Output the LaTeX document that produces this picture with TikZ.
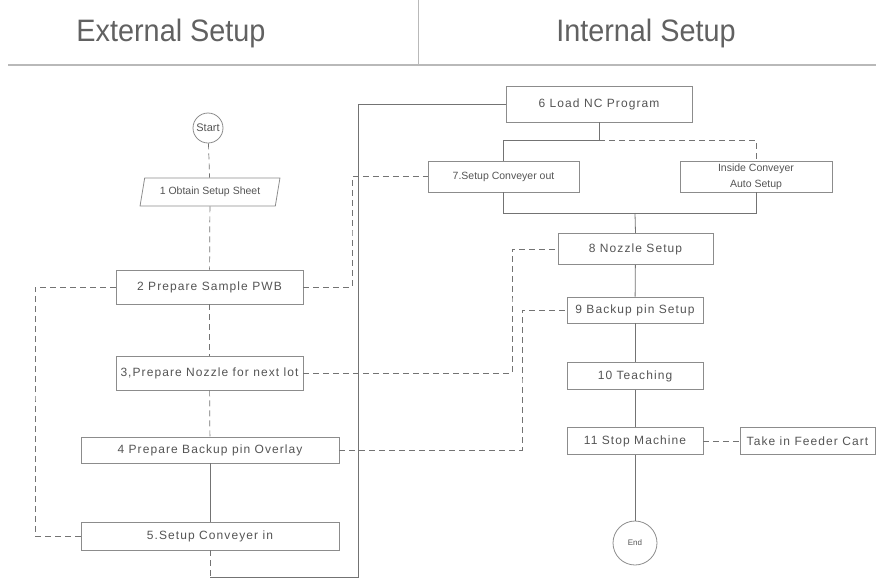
\documentclass[tikz,border=0pt]{standalone}
\usepackage{fontspec}
\usepackage{graphicx}
\setmainfont{Liberation Sans}
\usetikzlibrary{shapes.geometric}
\definecolor{linecol}{gray}{0.45}
\definecolor{boxcol}{gray}{0.55}
\definecolor{txtcol}{gray}{0.33}
\definecolor{hdrcol}{gray}{0.38}
\tikzset{
  stepbox/.style={draw=boxcol, line width=0.8pt, rectangle, inner sep=0pt, text=txtcol,
     font=\fontsize{12}{14}\selectfont\addfontfeature{LetterSpace=9}},
  smallbox/.style={stepbox, font=\fontsize{10.5}{12}\selectfont},
  termnode/.style={draw=boxcol, line width=0.8pt, circle, inner sep=0pt, text=txtcol},
  flow/.style={draw=linecol, line width=0.8pt},
  dflow/.style={draw=linecol, line width=0.7pt, dash pattern=on 6pt off 4pt},
  hdr/.style={text=hdrcol, font=\fontsize{31}{34}\selectfont, inner sep=0pt}
}
\begin{document}
\begin{tikzpicture}[x=1pt,y=-1pt]
\useasboundingbox (0,0) rectangle (876,582);
% header
\node[hdr] (hext) at (171,33) {\scalebox{0.93}[1]{External Setup}};
\node[hdr] (hint) at (646,33) {\scalebox{0.93}[1]{Internal Setup}};
\coordinate (hl1) at (8,65);
\coordinate (hl2) at (876,65);
\coordinate (hv1) at (418,0);
\coordinate (hv2) at (418,65);
\draw[draw=gray!55, line width=1.2pt] (hl1) -- (hl2);
\draw[draw=gray!55, line width=1pt] (hv1) -- (hv2);

% left column
\node[termnode, minimum size=30pt, font=\fontsize{11}{12}\selectfont] (start) at (208,128) {Start};
\node[draw=boxcol, line width=0.8pt, trapezium, trapezium left angle=70, trapezium right angle=110,
      trapezium stretches=true, minimum width=140pt, minimum height=28pt, inner sep=0pt,
      text=txtcol, font=\fontsize{10.5}{12}\selectfont] (s1) at (210,192) {1 Obtain Setup Sheet};
\node[stepbox, minimum width=187pt, minimum height=34pt] (b2) at (209.5,287) {2 Prepare Sample PWB};
\node[stepbox, minimum width=187pt, minimum height=34pt] (b3) at (209.5,373) {3,Prepare Nozzle for next lot};
\node[stepbox, minimum width=258pt, minimum height=26pt] (b4) at (210,450) {4 Prepare Backup pin Overlay};
\node[stepbox, minimum width=258pt, minimum height=28pt] (b5) at (210,536) {5.Setup Conveyer in};

% right column
\node[stepbox, minimum width=186pt, minimum height=36pt] (b6) at (599,104) {6 Load NC Program};
\node[smallbox, minimum width=151pt, minimum height=31pt] (b7) at (503.5,176.5) {7.Setup Conveyer out};
\node[smallbox, minimum width=152pt, minimum height=31pt, align=center, font=\fontsize{10.5}{16}\selectfont] (bin) at (756,176.5) {Inside Conveyer\\Auto Setup};
\node[stepbox, minimum width=155pt, minimum height=31pt] (b8) at (635.5,249) {8 Nozzle Setup};
\node[stepbox, minimum width=136pt, minimum height=26pt] (b9) at (635,310) {9 Backup pin Setup};
\node[stepbox, minimum width=136pt, minimum height=27pt] (b10) at (635,376) {10 Teaching};
\node[stepbox, minimum width=136pt, minimum height=27pt] (b11) at (635,441) {11 Stop Machine};
\node[stepbox, minimum width=135pt, minimum height=27pt] (feed) at (807.5,441) {Take in Feeder Cart};
\node[termnode, minimum size=44pt, font=\fontsize{8}{10}\selectfont] (end) at (635,543) {End};

% coordinates for routing
\coordinate (cB) at (358,577);
\coordinate (cL) at (35,400);
\coordinate (cA) at (352,230);
\coordinate (cC) at (512,300);
\coordinate (cD) at (522,380);
\coordinate (j1) at (599,140);
\coordinate (j2) at (635,213);

% left column connectors
\draw[dflow] (start) -- (s1);
\draw[dflow] (s1) -- (b2);
\draw[dflow] (b2) -- (b3);
\draw[dflow] (b3) -- (b4);
\draw[flow] (b4) -- (b5);
\draw[dflow] (b5.south) -- (b5.south |- cB);
\draw[flow] (b5.south |- cB) -- (cB) |- (b6.west);

% dashed cross links
\draw[dflow] (b2.west) -| (cL) |- (b5.west);
\draw[dflow] (b2.east) -| (cA) |- (b7.west);
\draw[dflow] (b3.east) -| (cC) |- (b8.west);
\draw[dflow] (b4.east) -| (cD) |- (b9.west);

% right column connectors
\draw[flow] (b6.south) -- (j1) -| (b7.north);
\draw[dflow] (j1) -| (bin.north);
\draw[flow] (b7.south) |- (j2);
\draw[flow] (bin.south) |- (j2);
\draw[flow] (j2) -- (b8.north);
\draw[flow] (b8) -- (b9);
\draw[flow] (b9) -- (b10);
\draw[flow] (b10) -- (b11);
\draw[flow] (b11) -- (end);
\draw[dflow] (b11.east) -- (feed.west);
\end{tikzpicture}
\end{document}
